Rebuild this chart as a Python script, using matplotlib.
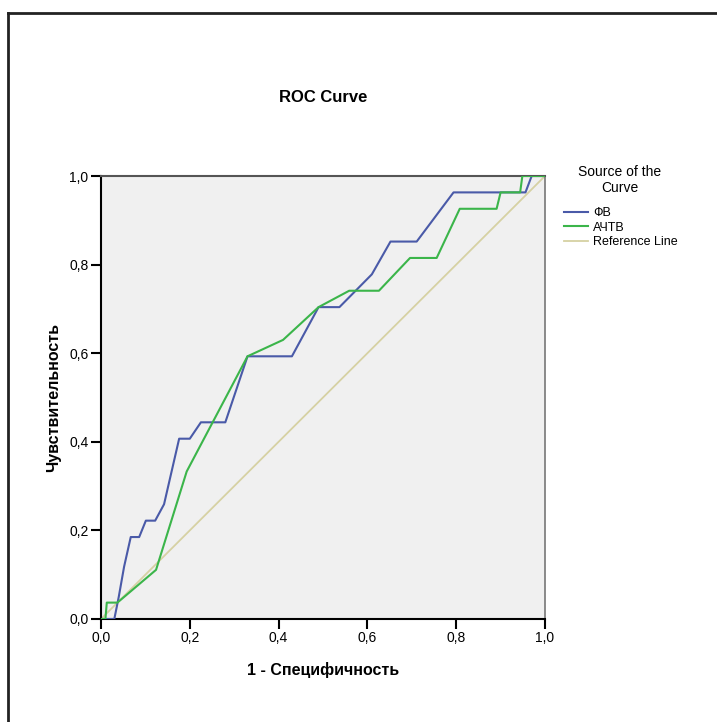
# ROC-кривые для ФВ и АЧТВ
import matplotlib
matplotlib.use('Agg')
import matplotlib.pyplot as plt
from matplotlib.lines import Line2D
from matplotlib.ticker import FuncFormatter

plt.rcParams['font.family'] = ['Liberation Sans', 'DejaVu Sans']

# Данные кривых (1 - специфичность, чувствительность)
fv_x = [0.0, 0.03, 0.04, 0.052, 0.067, 0.086, 0.101, 0.122, 0.142, 0.176, 0.2, 0.225, 0.28,
        0.33, 0.43, 0.49, 0.537, 0.61, 0.652, 0.711, 0.794, 0.956, 0.97, 1.0]
fv_y = [0.0, 0.0, 0.05, 0.118, 0.185, 0.185, 0.222, 0.222, 0.259, 0.407, 0.407, 0.444, 0.444,
        0.593, 0.593, 0.704, 0.704, 0.778, 0.852, 0.852, 0.963, 0.963, 1.0, 1.0]

achtv_x = [0.0, 0.01, 0.013, 0.037, 0.124, 0.193, 0.33, 0.41, 0.49, 0.559, 0.626, 0.696,
           0.756, 0.808, 0.891, 0.9, 0.944, 0.949, 1.0]
achtv_y = [0.0, 0.0, 0.037, 0.037, 0.111, 0.333, 0.593, 0.63, 0.704, 0.741, 0.741, 0.815,
           0.815, 0.926, 0.926, 0.963, 0.963, 1.0, 1.0]

ref_x = [0.0, 1.0]
ref_y = [0.0, 1.0]

ticks = [0.0, 0.2, 0.4, 0.6, 0.8, 1.0]

fig = plt.figure(figsize=(7.17, 7.22), dpi=100)
ax = fig.add_axes([101 / 717, 103 / 722, 444 / 717, 443 / 722])
ax.set_facecolor('#f0f0f0')

ax.plot(fv_x, fv_y, color='#4a5aa8', lw=1.5, label='ФВ', zorder=3)
ax.plot(achtv_x, achtv_y, color='#3bb54a', lw=1.5, label='АЧТВ', zorder=3)
ax.plot(ref_x, ref_y, color='#d6d1a3', lw=1.3, label='Reference Line', zorder=2)

ax.set_xlim(0, 1)
ax.set_ylim(0, 1)
ax.set_xticks(ticks)
ax.set_yticks(ticks)
fmt = FuncFormatter(lambda v, p: f'{v:.1f}'.replace('.', ','))
ax.xaxis.set_major_formatter(fmt)
ax.yaxis.set_major_formatter(fmt)
ax.tick_params(direction='out', length=7, width=1.5, labelsize=10, colors='black', pad=2)

for s in ['left', 'bottom']:
    ax.spines[s].set_linewidth(1.5)
    ax.spines[s].set_color('black')
ax.spines['top'].set_color('#555555')
ax.spines['top'].set_linewidth(1.5)
ax.spines['right'].set_color('#777777')
ax.spines['right'].set_linewidth(1.2)

ax.set_xlabel('1 - Специфичность', fontsize=11.5, fontweight='bold', labelpad=12)
ax.set_ylabel('Чувствительность', fontsize=11.5, fontweight='bold', labelpad=6)

fig.text(323 / 717, 1 - 97 / 722, 'ROC Curve', fontsize=12, fontweight='bold',
         ha='center', va='center')

# заголовок легенды отдельно
fig.text(620 / 717, 1 - 180 / 722, 'Source of the\nCurve', fontsize=10,
         ha='center', va='center', multialignment='center', linespacing=1.2)

leg = ax.legend(loc='upper left', bbox_to_anchor=(553 / 717, 1 - 196 / 722),
                bbox_transform=fig.transFigure, frameon=False, fontsize=9,
                handlelength=1.9, handletextpad=0.4, labelspacing=0.2)

# рамка вокруг рисунка
fig.add_artist(Line2D([8 / 717, 8 / 717], [0, 1 - 13 / 722], color='#222222', lw=2,
                      transform=fig.transFigure))
fig.add_artist(Line2D([8 / 717, 1], [1 - 13 / 722, 1 - 13 / 722], color='#222222', lw=2,
                      transform=fig.transFigure))

fig.savefig('out.png', dpi=100)
